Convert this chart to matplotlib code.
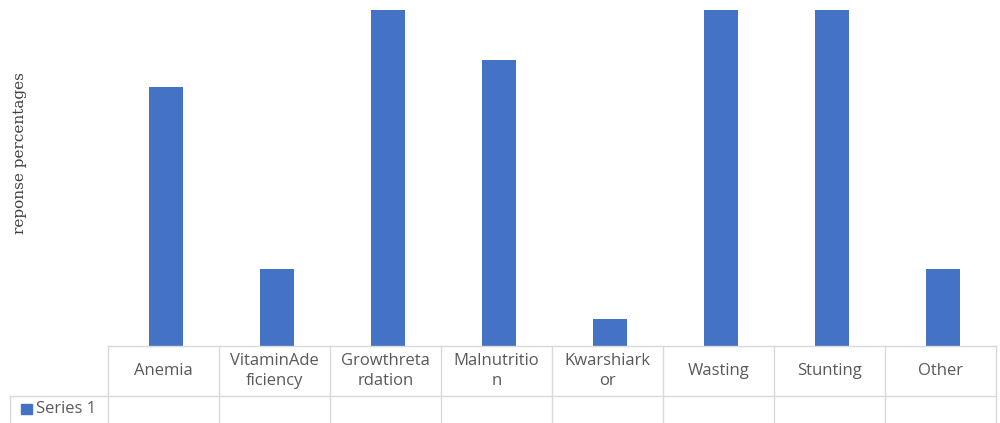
import numpy as np
import matplotlib.pyplot as plt

categories = ["Anemia", "VitaminAde\nficiency", "Growthreta\nrdation", "Malnutritio\nn",
              "Kwarshiark\nor", "Wasting", "Stunting", "Other"]
values = [77, 23, 100, 85, 8, 100, 100, 23]
series_name = "Series 1"

bar_color = "#4472C4"
grid_color = "#d9d9d9"
text_color = "#595959"

fig = plt.figure(figsize=(10, 4.23), dpi=100)
# plot area in pixels: x 108..996, y 10..346 (from top)
ax = fig.add_axes([0.108, (423 - 346) / 423, 0.888, 336 / 423])
x = np.arange(len(categories))
ax.bar(x + 0.02, values, width=0.31, color=bar_color)
ax.set_xlim(-0.5, len(categories) - 0.5)
ax.set_ylim(0, 100)
ax.set_xticks([])
ax.set_yticks([])
for s in ax.spines.values():
    s.set_visible(False)

# data table under the bars
tr = ax.get_xaxis_transform()
h = 336.0
y_top = 0.0
y_mid = -50 / h
y_bot = -77 / h
x_left = -0.5 - 98 / 111
n = len(categories)
ax.plot([-0.5, n - 0.5], [y_top, y_top], color=grid_color, lw=1, transform=tr, clip_on=False)
ax.plot([x_left, n - 0.5], [y_mid, y_mid], color=grid_color, lw=1, transform=tr, clip_on=False)
for b in np.arange(n + 1) - 0.5:
    ax.plot([b, b], [y_top, y_bot], color=grid_color, lw=1, transform=tr, clip_on=False)
ax.plot([x_left, x_left], [y_mid, y_bot], color=grid_color, lw=1, transform=tr, clip_on=False)

for i, c in enumerate(categories):
    ax.text(i, (y_top + y_mid) / 2, c, transform=tr, ha="center", va="center",
            fontsize=12, color=text_color, family="Open Sans", linespacing=1.3)

# legend key in the row header
ax.add_patch(plt.Rectangle((x_left + 0.1, -58 / h), 0.1, -10 / h, transform=tr,
                           color=bar_color, clip_on=False))
ax.text(x_left + 0.23, -63 / h, series_name, transform=tr, ha="left", va="center",
        fontsize=12, color=text_color, family="Open Sans")

fig.text(0.02, 1 - 153 / 423, "reponse percentages", rotation=90, ha="center", va="center",
         fontsize=11, color="#404040", family="DejaVu Serif")

fig.savefig("out.png", dpi=100)
